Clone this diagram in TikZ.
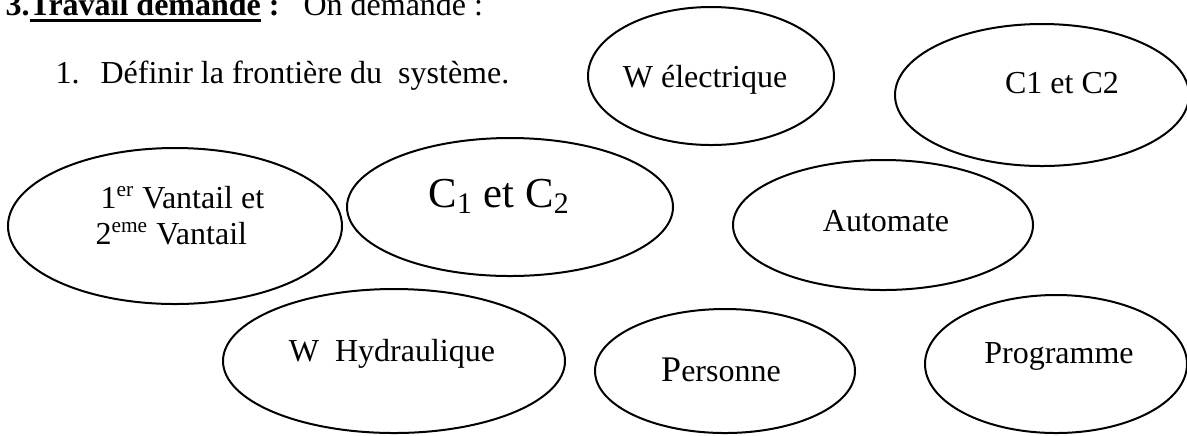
\documentclass[tikz,border=0pt]{standalone}
\usepackage{fontspec}
\setmainfont{Liberation Serif}
\usetikzlibrary{shapes.geometric}
\newcommand{\souligne}[1]{\setbox0\hbox{#1}\rlap{\rule[-2.6pt]{\wd0}{1.1pt}}\box0}

\begin{document}
\begin{tikzpicture}[x=0.375pt, y=-0.375pt,
    every node/.style={font=\fontsize{12}{14}\selectfont, inner sep=0pt},
    bulle/.style 2 args={draw, ellipse, line width=0.75pt,
      minimum width=#1*0.75pt, minimum height=#2*0.75pt},
    texte/.style={anchor=base}]
    \clip (0,0) rectangle (1187,435);
    % en-tete
    \node[anchor=base west] (titre) at (5,15)
      {\textbf{3.\souligne{Travail demandé}\ :}\hspace{9pt}On demande :};
    \node[anchor=base west] (num) at (55,83) {1.};
    \node[anchor=base west] (question) at (100,83) {Définir la frontière du\ \ système.};
    % ellipses
    \node[bulle={123}{69}] (welec) at (711,76) {};
    \node[bulle={147}{71}] (c12haut) at (1042,95) {};
    \node[bulle={167}{78}] (vantail) at (175,226) {};
    \node[bulle={163}{69}] (c12) at (510,207) {};
    \node[bulle={150}{65}] (automate) at (883,225) {};
    \node[bulle={171}{72}] (hydrau) at (394,361) {};
    \node[bulle={130}{62}] (personne) at (725,371) {};
    \node[bulle={131}{69}] (programme) at (1056,364) {};
    % textes
    \node[texte] (welecTxt) at (705,87) {W électrique};
    \node[texte] (c12hautTxt) at (1062,93) {C1 et C2};
    \node[anchor=base west] (vantailA) at (100,208) {1\textsuperscript{er} Vantail et};
    \node[anchor=base west] (vantailB) at (95,244) {2\textsuperscript{eme} Vantail};
    \node[anchor=base west, font=\fontsize{16}{19}\selectfont] (c12Txt) at (428,207)
      {C\textsubscript{1} et C\textsubscript{2}};
    \node[texte] (automateTxt) at (886,231) {Automate};
    \node[texte] (hydrauTxt) at (392,361) {W\ \ Hydraulique};
    \node[texte] (personneTxt) at (721,381) {{\fontsize{13.5}{16}\selectfont P}ersonne};
    \node[texte] (programmeTxt) at (1059,363) {Programme};
  \end{tikzpicture}
\end{document}
